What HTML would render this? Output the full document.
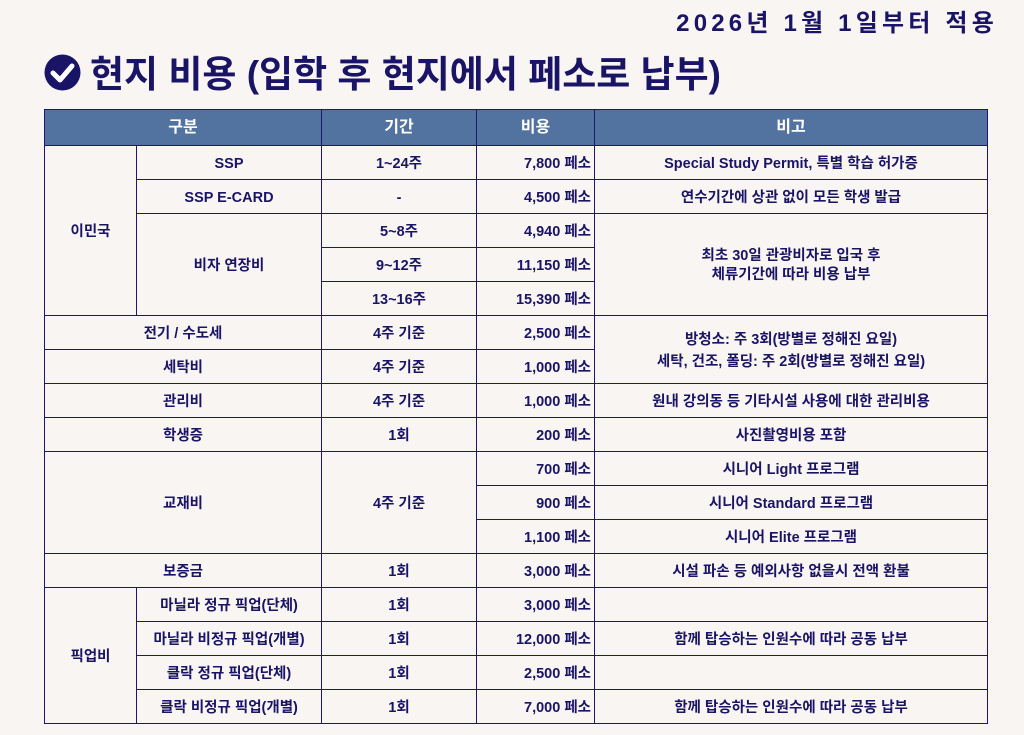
<!DOCTYPE html>
<html><head><meta charset="utf-8"><style>
body{margin:0;width:1024px;height:735px;background:#f8f5f2;font-family:"Liberation Sans","Noto Sans CJK KR",sans-serif;color:#1a1466;position:relative;overflow:hidden}
.date{position:absolute;right:26px;top:3px;font-size:24px;font-weight:bold;letter-spacing:4.2px}
.title{position:absolute;left:90px;top:44px;font-size:37px;font-weight:bold;white-space:nowrap}
.icon{position:absolute;left:44px;top:54px}
table{position:absolute;left:44px;top:109px;border-collapse:collapse;table-layout:fixed}
tr{height:34px}
td,th{border:1.5px solid #1e1670;text-align:center;font-size:14.5px;font-weight:bold;padding:3px 0 0 0;line-height:19px}
th{background:#52729f;color:#fff;font-size:16px;height:34px;padding:0}
td.r{text-align:right;padding-right:3px}
</style></head><body>
<div class="date">2026년 1월 1일부터 적용</div>
<svg class="icon" width="37" height="37" viewBox="0 0 37 37"><circle cx="18.5" cy="18.5" r="18" fill="#1a1466"/><path d="M9 19 L16 26 L28 12" stroke="#fff" stroke-width="5" fill="none" stroke-linecap="round" stroke-linejoin="round"/></svg>
<div class="title">현지 비용 (입학 후 현지에서 페소로 납부)</div>
<table>
<colgroup><col style="width:92px"><col style="width:185px"><col style="width:155px"><col style="width:118px"><col style="width:393px"></colgroup>
<tr style="height:36px"><th colspan="2">구분</th><th>기간</th><th>비용</th><th>비고</th></tr>
<tr><td rowspan="5">이민국</td><td>SSP</td><td>1~24주</td><td class="r">7,800 페소</td><td>Special Study Permit, 특별 학습 허가증</td></tr>
<tr><td>SSP E-CARD</td><td>-</td><td class="r">4,500 페소</td><td>연수기간에 상관 없이 모든 학생 발급</td></tr>
<tr><td rowspan="3">비자 연장비</td><td>5~8주</td><td class="r">4,940 페소</td><td rowspan="3">최초 30일 관광비자로 입국 후<br>체류기간에 따라 비용 납부</td></tr>
<tr><td>9~12주</td><td class="r">11,150 페소</td></tr>
<tr><td>13~16주</td><td class="r">15,390 페소</td></tr>
<tr><td colspan="2">전기 / 수도세</td><td>4주 기준</td><td class="r">2,500 페소</td><td rowspan="2" style="line-height:22px">방청소: 주 3회(방별로 정해진 요일)<br>세탁, 건조, 폴딩: 주 2회(방별로 정해진 요일)</td></tr>
<tr><td colspan="2">세탁비</td><td>4주 기준</td><td class="r">1,000 페소</td></tr>
<tr><td colspan="2">관리비</td><td>4주 기준</td><td class="r">1,000 페소</td><td>원내 강의동 등 기타시설 사용에 대한 관리비용</td></tr>
<tr><td colspan="2">학생증</td><td>1회</td><td class="r">200 페소</td><td>사진촬영비용 포함</td></tr>
<tr><td colspan="2" rowspan="3">교재비</td><td rowspan="3">4주 기준</td><td class="r">700 페소</td><td>시니어 Light 프로그램</td></tr>
<tr><td class="r">900 페소</td><td>시니어 Standard 프로그램</td></tr>
<tr><td class="r">1,100 페소</td><td>시니어 Elite 프로그램</td></tr>
<tr><td colspan="2">보증금</td><td>1회</td><td class="r">3,000 페소</td><td>시설 파손 등 예외사항 없을시 전액 환불</td></tr>
<tr><td rowspan="4">픽업비</td><td>마닐라 정규 픽업(단체)</td><td>1회</td><td class="r">3,000 페소</td><td></td></tr>
<tr><td>마닐라 비정규 픽업(개별)</td><td>1회</td><td class="r">12,000 페소</td><td>함께 탑승하는 인원수에 따라 공동 납부</td></tr>
<tr><td>클락 정규 픽업(단체)</td><td>1회</td><td class="r">2,500 페소</td><td></td></tr>
<tr><td>클락 비정규 픽업(개별)</td><td>1회</td><td class="r">7,000 페소</td><td>함께 탑승하는 인원수에 따라 공동 납부</td></tr>
</table>
</body></html>
